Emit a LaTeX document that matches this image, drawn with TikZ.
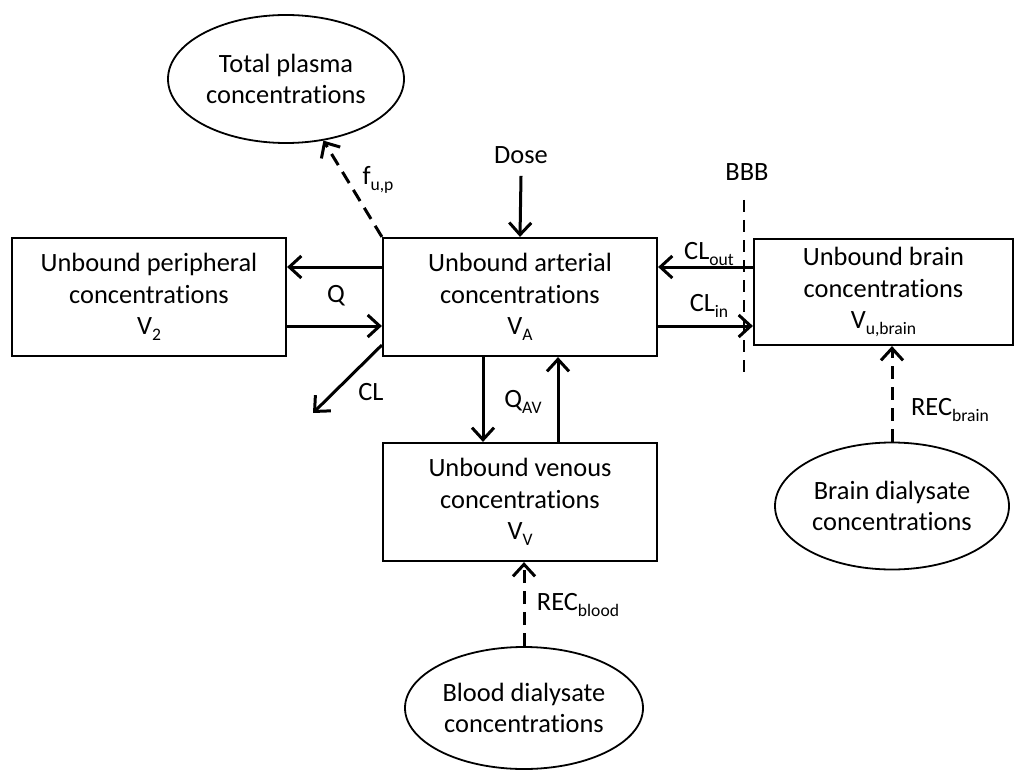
\documentclass[tikz,border=0pt]{standalone}
\usepackage{fontspec}
\setmainfont{Carlito}[Ligatures=NoCommon]
\usetikzlibrary{arrows.meta,shapes.geometric}
\newcommand\mysub[1]{\raisebox{-0.45ex}{\fontsize{8.8}{9}\selectfont #1}}
\tikzset{
  box/.style={draw, line width=1.1pt, minimum width=137pt, minimum height=59pt, inner sep=0pt, align=center, font=\fontsize{13.2}{15.8}\selectfont},
  oval/.style={draw, ellipse, line width=0.9pt, inner sep=0pt, align=center, font=\fontsize{13.2}{15.8}\selectfont},
  lbl/.style={inner sep=0pt, font=\fontsize{13.2}{15.8}\selectfont},
  arr/.style={line width=1.5pt, -{Straight Barb[length=6pt,width=11pt,line width=1.5pt]}},
  darr/.style={arr, dash pattern=on 6.5pt off 4pt},
}
\begin{document}
\begin{tikzpicture}[x=0.5pt,y=-0.5pt]
\useasboundingbox (0,0) rectangle (1016,770);
% boxes
\node[box] (per) at (149,297) {Unbound peripheral\\concentrations\\V\mysub{2}};
\node[box] (art) at (520,297) {Unbound arterial\\concentrations\\V\mysub{A}};
\node[box, minimum width=129.5pt, minimum height=53pt] (br) at (883.5,292) {Unbound brain\\concentrations\\V\mysub{u,brain}};
\node[box] (ven) at (520,502) {Unbound venous\\concentrations\\V\mysub{V}};
% ellipses
\node[oval, minimum width=118pt, minimum height=64pt] (pl) at (286,79) {Total plasma\\concentrations};
\node[oval, minimum width=119pt, minimum height=61pt] (bl) at (524,708) {Blood dialysate\\concentrations};
\node[oval, minimum width=117pt, minimum height=63.5pt] (bd) at (892,506) {Brain dialysate\\concentrations};
% labels
\node[lbl] (dose) at (521,155) {Dose};
\node[lbl] (bbb) at (747,172) {BBB};
\node[lbl] at (336,296) {Q};
\node[lbl] at (371,392) {CL};
\node[lbl] at (378,180) {f\mysub{u,p}};
\node[lbl] at (709,254) {CL\mysub{out}};
\node[lbl] at (709,306) {CL\mysub{in}};
\node[lbl] at (523,402) {Q\mysub{AV}};
\node[lbl] at (578,605) {REC\mysub{blood}};
\node[lbl] at (950,410) {REC\mysub{brain}};
% BBB line
\coordinate (bbbtop) at (744,200);
\coordinate (bbbbot) at (744,372);
\draw[line width=1.3pt, dash pattern=on 6pt off 4pt] (bbbtop) -- (bbbbot);
% connectors
\draw[arr] ([yshift=15pt]art.west) -- ([yshift=15pt]per.east);
\draw[arr] ([yshift=-14.5pt]per.east) -- ([yshift=-14.5pt]art.west);
\coordinate (clend) at (313,413);
\draw[arr] ([yshift=-24pt]art.west) -- (clend);
\draw[arr] ([yshift=-6pt]dose.south) -- (art.north);
\draw[darr] (art.north west) -- (pl);
\draw[arr] ([yshift=12.5pt]br.west) -- ([yshift=15pt]art.east);
\draw[arr] ([yshift=-14.5pt]art.east) -- ([yshift=-17pt]br.west);
\draw[arr] ([xshift=-18.5pt]art.south) -- ([xshift=-18.5pt]ven.north);
\draw[arr] ([xshift=19pt]ven.north) -- ([xshift=19pt]art.south);
\draw[darr] (bl.north) -- (bl.north |- ven.south);
\draw[darr] (bd.north) -- (bd.north |- br.south);
\end{tikzpicture}
\end{document}
